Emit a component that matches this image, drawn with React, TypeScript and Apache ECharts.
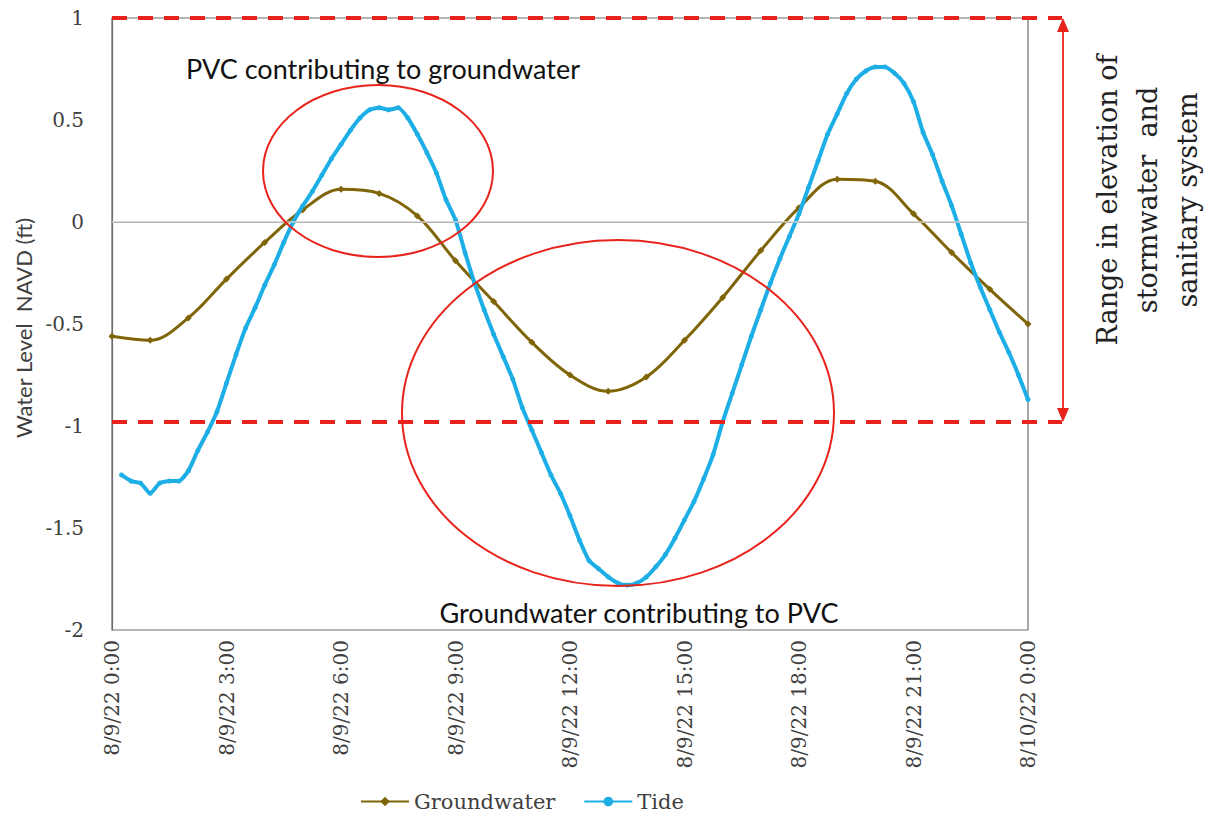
import React, { useEffect, useRef } from "react";
import * as echarts from "echarts";

// ---- data ----
const xTickLabels = [
  "8/9/22 0:00", "8/9/22 3:00", "8/9/22 6:00", "8/9/22 9:00", "8/9/22 12:00",
  "8/9/22 15:00", "8/9/22 18:00", "8/9/22 21:00", "8/10/22 0:00",
];
const yTicks = [-2, -1.5, -1, -0.5, 0, 0.5, 1];

// Groundwater, hourly from 0:00 to 24:00
const groundwaterValues = [
  -0.56, -0.58, -0.47, -0.28, -0.10, 0.06, 0.16, 0.14, 0.03, -0.19, -0.39, -0.59,
  -0.75, -0.83, -0.76, -0.58, -0.37, -0.14, 0.07, 0.21, 0.20, 0.04, -0.15, -0.33, -0.50,
];
const groundwaterStepHours = 1;

// Tide, every 15 minutes from 0:15 to 24:00
const tideStartHour = 0.25;
const tideStepHours = 0.25;
const tideValues = [
  -1.24, -1.27, -1.28, -1.33, -1.28, -1.27, -1.27, -1.22,
  -1.12, -1.03, -0.93, -0.79, -0.65, -0.52, -0.42, -0.31,
  -0.21, -0.10, 0.0, 0.08, 0.15, 0.23, 0.31, 0.38,
  0.45, 0.51, 0.55, 0.56, 0.55, 0.56, 0.51, 0.43,
  0.34, 0.24, 0.11, 0.01, -0.15, -0.30, -0.43, -0.55,
  -0.66, -0.77, -0.91, -1.02, -1.13, -1.24, -1.33, -1.44,
  -1.56, -1.66, -1.70, -1.74, -1.77, -1.78, -1.77, -1.74,
  -1.69, -1.63, -1.55, -1.46, -1.37, -1.26, -1.14, -0.98,
  -0.84, -0.70, -0.56, -0.43, -0.30, -0.18, -0.07, 0.04,
  0.17, 0.30, 0.43, 0.53, 0.63, 0.70, 0.74, 0.76,
  0.76, 0.73, 0.68, 0.59, 0.44, 0.33, 0.20, 0.08,
  -0.06, -0.20, -0.32, -0.43, -0.54, -0.64, -0.75, -0.87,
];

// reference levels for the stormwater/sanitary elevation range
const rangeTop = 1;
const rangeBottom = -0.98;

const legendNames = ["Groundwater", "Tide"];
const annotationTop = "PVC contributing to groundwater";
const annotationBottom = "Groundwater contributing to PVC";
const rangeLabel = ["Range in elevation of", "stormwater  and", "sanitary system"];
const yAxisTitle = "Water Level  NAVD (ft)";

const GW_COLOR = "#7f6508";
const TIDE_COLOR = "#1eaee6";
const RED = "#e8231b";
const SERIF = "'DejaVu Serif', serif";
const SANS = "Lato, 'Open Sans', sans-serif";

export default function App() {
  const ref = useRef<HTMLDivElement>(null);

  useEffect(() => {
    if (!ref.current) return;
    const chart = echarts.init(ref.current, null, { renderer: "svg" });

    const gwData = groundwaterValues.map((v, i) => [i * groundwaterStepHours, v]);
    const tideData = tideValues.map((v, i) => [tideStartHour + i * tideStepHours, v]);

    chart.setOption({
      animation: false,
      backgroundColor: "#ffffff",
      grid: {
        left: 112,
        right: 184,
        top: 18,
        bottom: 188,
        show: true,
        borderColor: "#6e6e6e",
        borderWidth: 1.2,
        backgroundColor: "transparent",
      },
      legend: {
        data: legendNames,
        left: 355,
        top: 786,
        itemWidth: 48,
        itemHeight: 12,
        itemGap: 28,
        textStyle: { fontFamily: SERIF, fontSize: 21, color: "#404040" },
      },
      xAxis: {
        type: "value",
        min: 0,
        max: 24,
        interval: 3,
        axisLine: { show: true, lineStyle: { color: "#6e6e6e", width: 1.2 } },
        axisTick: { show: false },
        splitLine: { show: false },
        axisLabel: {
          rotate: 90,
          margin: 10,
          fontFamily: SERIF,
          fontSize: 20,
          color: "#404040",
          formatter: (v: number) => xTickLabels[Math.round(v / 3)] ?? "",
        },
      },
      yAxis: {
        type: "value",
        min: yTicks[0],
        max: yTicks[yTicks.length - 1],
        interval: 0.5,
        axisLine: { show: true, lineStyle: { color: "#6e6e6e", width: 1.2 } },
        axisTick: { show: false },
        splitLine: { show: false },
        axisLabel: {
          margin: 28,
          fontFamily: SERIF,
          fontSize: 20,
          color: "#404040",
          formatter: (v: number) => String(v),
        },
      },
      series: [
        {
          name: legendNames[0],
          type: "line",
          data: gwData,
          smooth: 0.35,
          symbol: "diamond",
          symbolSize: 7,
          lineStyle: { color: GW_COLOR, width: 3 },
          itemStyle: { color: GW_COLOR },
          z: 3,
          markLine: {
            silent: true,
            symbol: "none",
            label: { show: false },
            lineStyle: { color: "#cfcfcf", width: 1.5, type: "solid" },
            data: [{ yAxis: 0 }],
          },
        },
        {
          name: legendNames[1],
          type: "line",
          data: tideData,
          smooth: 0.2,
          symbol: "circle",
          symbolSize: 5,
          showAllSymbol: true,
          lineStyle: { color: TIDE_COLOR, width: 4 },
          itemStyle: { color: TIDE_COLOR },
          z: 4,
        },
      ],
    });

    const px = (x: number, y: number) =>
      chart.convertToPixel({ gridIndex: 0 }, [x, y]) as number[];

    const pTopL = px(0, rangeTop);
    const pBotL = px(0, rangeBottom);
    const pRight = px(24, 0);
    const dashEnd = pRight[0] + 34;
    const arrowX = pRight[0] + 35;
    const redDash = { stroke: RED, lineWidth: 4, lineDash: [15, 11] };

    chart.setOption({
      graphic: [
        // elevation range lines
        {
          type: "line",
          shape: { x1: pTopL[0], y1: pTopL[1], x2: dashEnd, y2: pTopL[1] },
          style: redDash,
          z: 10,
        },
        {
          type: "line",
          shape: { x1: pBotL[0], y1: pBotL[1], x2: dashEnd, y2: pBotL[1] },
          style: redDash,
          z: 10,
        },
        // double arrow
        {
          type: "line",
          shape: { x1: arrowX, y1: pTopL[1] + 10, x2: arrowX, y2: pBotL[1] - 10 },
          style: { stroke: RED, lineWidth: 1.8 },
          z: 10,
        },
        {
          type: "polygon",
          shape: { points: [[arrowX, pTopL[1]], [arrowX - 6, pTopL[1] + 14], [arrowX + 6, pTopL[1] + 14]] },
          style: { fill: RED },
          z: 10,
        },
        {
          type: "polygon",
          shape: { points: [[arrowX, pBotL[1]], [arrowX - 6, pBotL[1] - 14], [arrowX + 6, pBotL[1] - 14]] },
          style: { fill: RED },
          z: 10,
        },
        // ellipses
        {
          type: "ellipse",
          shape: { cx: 378, cy: 171, rx: 115, ry: 86 },
          style: { fill: "none", stroke: RED, lineWidth: 2 },
          z: 10,
        },
        {
          type: "ellipse",
          shape: { cx: 618, cy: 413, rx: 216, ry: 173 },
          style: { fill: "none", stroke: RED, lineWidth: 2 },
          z: 10,
        },
        // annotation texts
        {
          type: "text",
          x: 383,
          y: 68,
          style: {
            text: annotationTop,
            fontFamily: SANS,
            fontSize: 27,
            fill: "#111111",
            align: "center",
            verticalAlign: "middle",
          },
          z: 11,
        },
        {
          type: "text",
          x: 639,
          y: 612,
          style: {
            text: annotationBottom,
            fontFamily: SANS,
            fontSize: 27,
            fill: "#111111",
            align: "center",
            verticalAlign: "middle",
          },
          z: 11,
        },
        // y axis title
        {
          type: "text",
          x: 23,
          y: 328,
          rotation: Math.PI / 2,
          style: {
            text: yAxisTitle,
            fontFamily: SANS,
            fontSize: 22,
            fill: "#404040",
            align: "center",
            verticalAlign: "middle",
          },
          z: 11,
        },
        // range label
        ...rangeLabel.map((line, i) => ({
          type: "text",
          x: 1107 + i * 40,
          y: 200,
          rotation: Math.PI / 2,
          style: {
            text: line,
            fontFamily: SERIF,
            fontSize: 27,
            fill: "#222222",
            align: "center",
            verticalAlign: "middle",
          },
          z: 11,
        })),
      ],
    });

    return () => chart.dispose();
  }, []);

  return (
    <div
      ref={ref}
      style={{ position: "absolute", left: 0, top: 0, width: 1212, height: 818 }}
    />
  );
}
